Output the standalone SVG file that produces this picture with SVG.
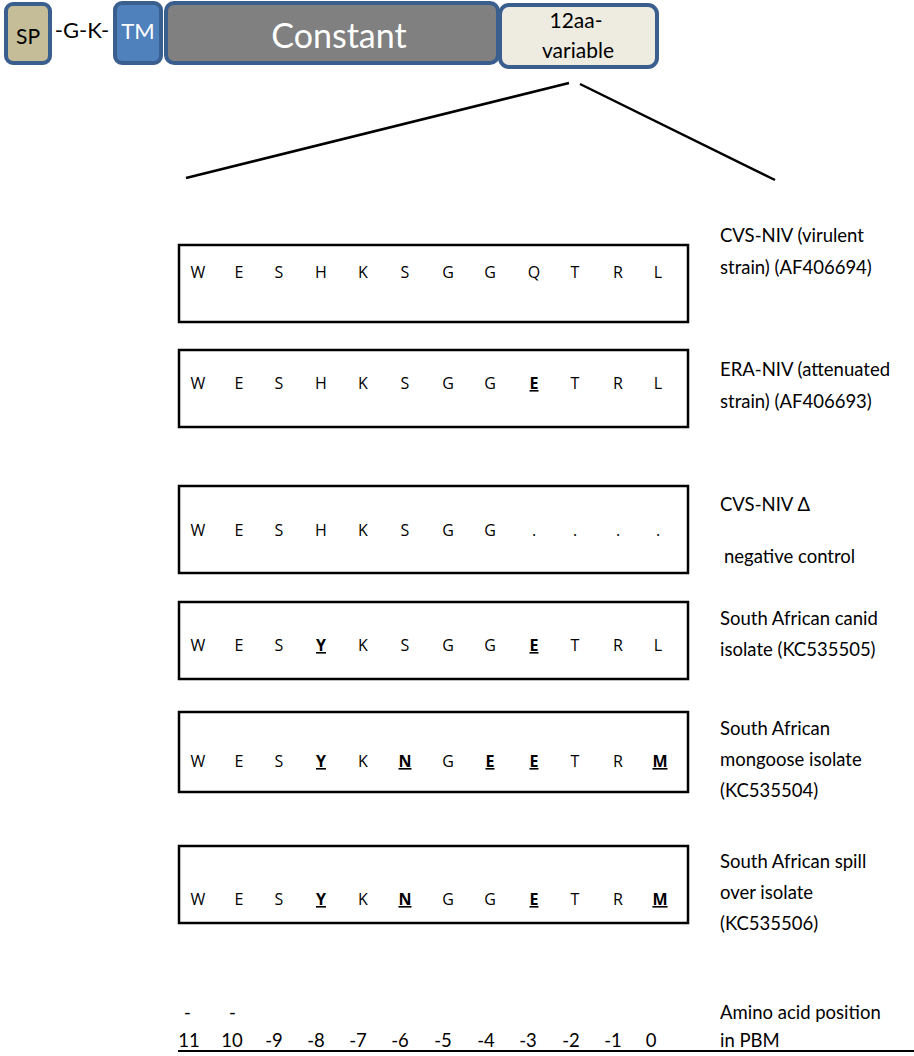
<svg xmlns="http://www.w3.org/2000/svg" width="914" height="1056" viewBox="0 0 914 1056">
<style>
.dom{stroke:#3a5f8f;stroke-width:4}
.seqbox{fill:none;stroke:#000;stroke-width:2.5}
.aa{font-family:"Open Sans","Liberation Sans",sans-serif;font-size:16px;fill:#000;text-anchor:middle}
.m{font-weight:bold;text-decoration:underline}
.lbl{font-family:Lato,"Liberation Sans",sans-serif;font-size:18.5px;fill:#000}
.conn{stroke:#000;stroke-width:2.5;fill:none}
</style>
<rect width="914" height="1056" fill="#fff"/>
<g id="protein">
<g id="sp"><rect class="dom" x="6" y="4" width="44" height="59" rx="7" fill="#c4bd97"/><text x="28" y="44" font-family="Lato,'Liberation Sans',sans-serif" font-size="21" text-anchor="middle">SP</text></g>
<text id="gk" x="82" y="38" font-family="Lato,'Liberation Sans',sans-serif" font-size="22" text-anchor="middle">-G-K-</text>
<g id="tm"><rect class="dom" x="115" y="3" width="46" height="60" rx="7" fill="#4f81bd"/><text x="138" y="39" font-family="Lato,'Liberation Sans',sans-serif" font-size="22" fill="#fff" text-anchor="middle">TM</text></g>
<g id="constant"><rect class="dom" x="166" y="3" width="332" height="60" rx="8" fill="#808080"/><text x="339" y="48" font-family="Lato,'Liberation Sans',sans-serif" font-size="34" fill="#fff" text-anchor="middle">Constant</text></g>
<g id="variable"><rect class="dom" x="500" y="5" width="157" height="62" rx="9" fill="#eeece1"/><text x="576" y="28" font-family="Lato,'Liberation Sans',sans-serif" font-size="21" text-anchor="middle">12aa-</text><text x="578" y="58" font-family="Lato,'Liberation Sans',sans-serif" font-size="21" text-anchor="middle">variable</text></g>
</g>
<g id="connectors">
<line class="conn" x1="569" y1="83" x2="186" y2="178"/>
<line class="conn" x1="580" y1="84" x2="775" y2="180"/>
</g>
<g id="row1">
<rect class="seqbox" x="179" y="245" width="509" height="77"/>
<text class="aa" y="278"><tspan x="198">W</tspan><tspan x="239">E</tspan><tspan x="279">S</tspan><tspan x="321">H</tspan><tspan x="363">K</tspan><tspan x="405">S</tspan><tspan x="448">G</tspan><tspan x="490">G</tspan><tspan x="534">Q</tspan><tspan x="575">T</tspan><tspan x="618">R</tspan><tspan x="658">L</tspan></text>
<text class="lbl" x="720" y="242">CVS-NIV (virulent</text>
<text class="lbl" x="720" y="274">strain) (AF406694)</text>
</g>
<g id="row2">
<rect class="seqbox" x="179" y="350" width="509" height="77"/>
<text class="aa" y="389"><tspan x="198">W</tspan><tspan x="239">E</tspan><tspan x="279">S</tspan><tspan x="321">H</tspan><tspan x="363">K</tspan><tspan x="405">S</tspan><tspan x="448">G</tspan><tspan x="490">G</tspan><tspan x="534" class="m">E</tspan><tspan x="575">T</tspan><tspan x="618">R</tspan><tspan x="658">L</tspan></text>
<text class="lbl" x="720" y="376">ERA-NIV (attenuated</text>
<text class="lbl" x="720" y="408">strain) (AF406693)</text>
</g>
<g id="row3">
<rect class="seqbox" x="179" y="486" width="509" height="87"/>
<text class="aa" y="536"><tspan x="198">W</tspan><tspan x="239">E</tspan><tspan x="279">S</tspan><tspan x="321">H</tspan><tspan x="363">K</tspan><tspan x="405">S</tspan><tspan x="448">G</tspan><tspan x="490">G</tspan><tspan x="534">.</tspan><tspan x="575">.</tspan><tspan x="618">.</tspan><tspan x="658">.</tspan></text>
<text class="lbl" x="720" y="511">CVS-NIV Δ</text>
<text class="lbl" x="724" y="563">negative control</text>
</g>
<g id="row4">
<rect class="seqbox" x="179" y="602" width="509" height="77"/>
<text class="aa" y="651"><tspan x="198">W</tspan><tspan x="239">E</tspan><tspan x="279">S</tspan><tspan x="321" class="m">Y</tspan><tspan x="363">K</tspan><tspan x="405">S</tspan><tspan x="448">G</tspan><tspan x="490">G</tspan><tspan x="534" class="m">E</tspan><tspan x="575">T</tspan><tspan x="618">R</tspan><tspan x="658">L</tspan></text>
<text class="lbl" x="720" y="625">South African canid</text>
<text class="lbl" x="720" y="656">isolate (KC535505)</text>
</g>
<g id="row5">
<rect class="seqbox" x="179" y="712" width="509" height="80"/>
<text class="aa" y="767"><tspan x="198">W</tspan><tspan x="239">E</tspan><tspan x="279">S</tspan><tspan x="321" class="m">Y</tspan><tspan x="363">K</tspan><tspan x="405" class="m">N</tspan><tspan x="448">G</tspan><tspan x="490" class="m">E</tspan><tspan x="534" class="m">E</tspan><tspan x="575">T</tspan><tspan x="618">R</tspan><tspan x="660" class="m">M</tspan></text>
<text class="lbl" x="720" y="735">South African</text>
<text class="lbl" x="720" y="766">mongoose isolate</text>
<text class="lbl" x="720" y="797">(KC535504)</text>
</g>
<g id="row6">
<rect class="seqbox" x="179" y="846" width="509" height="77"/>
<text class="aa" y="905"><tspan x="198">W</tspan><tspan x="239">E</tspan><tspan x="279">S</tspan><tspan x="321" class="m">Y</tspan><tspan x="363">K</tspan><tspan x="405" class="m">N</tspan><tspan x="448">G</tspan><tspan x="490">G</tspan><tspan x="534" class="m">E</tspan><tspan x="575">T</tspan><tspan x="618">R</tspan><tspan x="660" class="m">M</tspan></text>
<text class="lbl" x="720" y="868">South African spill</text>
<text class="lbl" x="720" y="899">over isolate</text>
<text class="lbl" x="720" y="930">(KC535506)</text>
</g>
<g id="positions">
<text class="lbl" y="1019"><tspan x="184">-</tspan><tspan x="229">-</tspan></text>
<text class="lbl" y="1047" text-anchor="middle"><tspan x="189">11</tspan><tspan x="232">10</tspan><tspan x="274">-9</tspan><tspan x="316">-8</tspan><tspan x="358">-7</tspan><tspan x="400">-6</tspan><tspan x="443">-5</tspan><tspan x="486">-4</tspan><tspan x="528">-3</tspan><tspan x="571">-2</tspan><tspan x="613">-1</tspan><tspan x="651">0</tspan></text>
<text class="lbl" x="720" y="1019">Amino acid position</text>
<text class="lbl" x="720" y="1047">in PBM</text>
<line x1="178" y1="1051" x2="914" y2="1051" stroke="#000" stroke-width="2"/>
</g>
</svg>
